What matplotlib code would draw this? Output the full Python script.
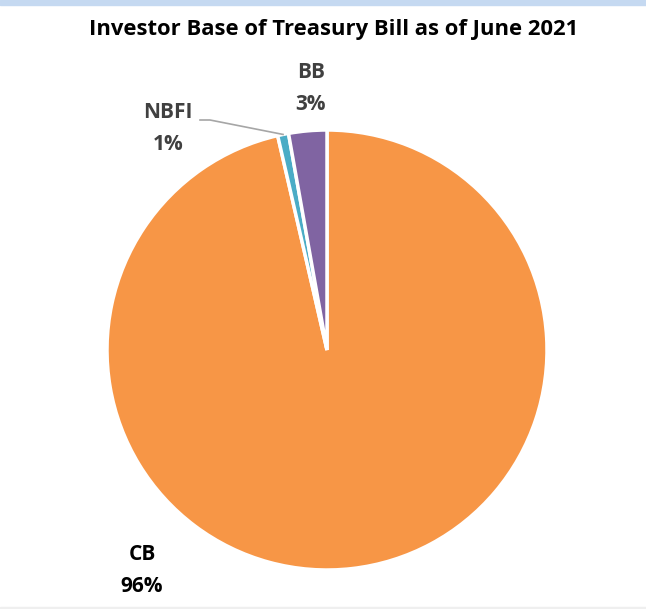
import matplotlib
matplotlib.use("Agg")
import numpy as np
from matplotlib import pyplot as plt

investors = ["CB", "NBFI", "BB"]
shares = [96.4, 0.8, 2.8]
colors = ["#F79646", "#4BACC6", "#8064A2"]

plt.rcParams['font.family'] = ['Open Sans', 'DejaVu Sans']

fig = plt.figure(figsize=(6.46, 6.09), dpi=100)
W, H = 646, 609
cx, cy, r = 327, 350, 220

# thin band across the top and faint rule at the bottom
fig.patches.append(plt.Rectangle((0, 1 - 5 / H), 1, 5 / H, transform=fig.transFigure,
                                 color="#C5D9F1", zorder=0))
fig.patches.append(plt.Rectangle((0, 0), 1, 2 / H, transform=fig.transFigure,
                                 color="#EFEFEF", zorder=0))

ax = fig.add_axes([(cx - r) / W, (H - cy - r) / H, 2 * r / W, 2 * r / H])
wedges, _ = ax.pie(shares, colors=colors, startangle=90, counterclock=False,
                   radius=1, wedgeprops=dict(edgecolor="white", linewidth=2.5))
ax.set_xlim(-1, 1)
ax.set_ylim(-1, 1)
ax.set_aspect("equal")
ax.axis("off")


def px(x, y):
    return (x - cx) / r, (cy - y) / r


pct = [f"{round(s)}%" for s in shares]
label_pos = {"CB": (142, 555), "NBFI": (168, 112), "BB": (311, 72)}
label_col = {"CB": "#000000", "NBFI": "#404040", "BB": "#404040"}
for name, p in zip(investors, pct):
    lx, ly = label_pos[name]
    ax.text(*px(lx, ly), name, ha="center", va="center", fontsize=15,
            fontweight="bold", color=label_col[name], clip_on=False)
    ax.text(*px(lx, ly + 32), p, ha="center", va="center", fontsize=15,
            fontweight="bold", color=label_col[name], clip_on=False)

# leader line for the small NBFI slice
w = wedges[1]
mid = np.deg2rad((w.theta1 + w.theta2) / 2)
ex, ey = np.cos(mid) * 1.0, np.sin(mid) * 1.0
ax.plot([px(200, 120)[0], px(210, 120)[0], ex], [px(200, 120)[1], px(210, 120)[1], ey],
        color="#A6A6A6", lw=1.2, clip_on=False)

fig.text(334 / W, 1 - 29 / H, "Investor Base of Treasury Bill as of June 2021",
         ha="center", va="center", fontsize=15.8, fontweight="bold", color="black")

fig.savefig("out.png", dpi=100)
